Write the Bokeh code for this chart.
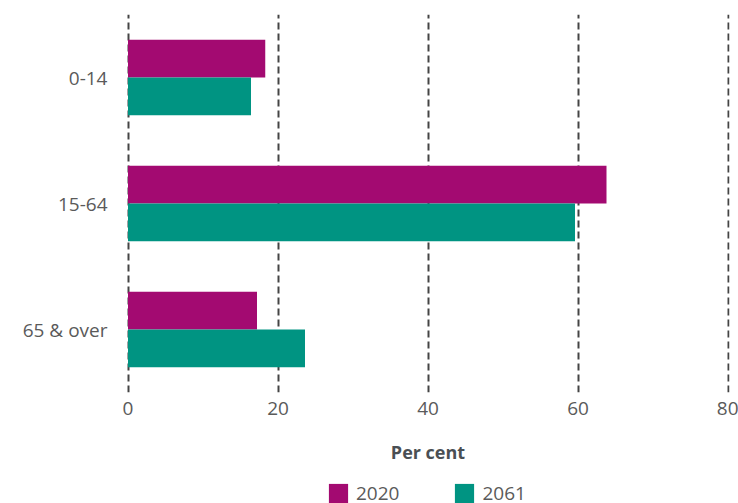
from bokeh.plotting import figure
from bokeh.models import ColumnDataSource, FactorRange, Range1d, Legend, LegendItem
from bokeh.transform import dodge
from bokeh.layouts import column
from bokeh.embed import file_html
from bokeh.resources import INLINE

categories = ["0-14", "15-64", "65 & over"]
series_names = ["2020", "2061"]
values_2020 = [18.3, 63.8, 17.2]
values_2061 = [16.4, 59.6, 23.6]
x_ticks = [0, 20, 40, 60, 80]

colors = ["#A30A71", "#009482"]
FONT = "Open Sans"
TEXT_COLOR = "#5a5a5a"

source = ColumnDataSource(dict(cat=categories, v2020=values_2020, v2061=values_2061))

# main chart: 14 + 378 + 74 = 466 px tall
p = figure(frame_width=603, frame_height=378, output_backend="svg", toolbar_location=None,
           y_range=FactorRange(factors=list(reversed(categories))),
           x_range=Range1d(-0.2, 80.2),
           min_border_left=126, min_border_right=9, min_border_top=14, min_border_bottom=74)
p.outline_line_color = None
p.background_fill_color = "white"
p.border_fill_color = "white"

p.hbar(y=dodge("cat", 0.15, range=p.y_range), right="v2020", left=0, height=0.3,
       source=source, color=colors[0], line_color=None)
p.hbar(y=dodge("cat", -0.15, range=p.y_range), right="v2061", left=0, height=0.3,
       source=source, color=colors[1], line_color=None)

p.ygrid.grid_line_color = None
p.xgrid.grid_line_color = "#444444"
p.xgrid.grid_line_width = 2
p.xgrid.grid_line_dash = "7 4"
p.xaxis.ticker = x_ticks

for ax in (p.xaxis[0], p.yaxis[0]):
    ax.axis_line_color = None
    ax.major_tick_line_color = None
    ax.minor_tick_line_color = None
    ax.major_tick_out = 0
    ax.major_tick_in = 0
    ax.minor_tick_out = 0
    ax.major_label_text_font = FONT
    ax.major_label_text_color = TEXT_COLOR

p.xaxis.major_label_text_font_size = "19px"
p.yaxis.major_label_text_font_size = "19px"
p.yaxis.major_label_standoff = 19
p.xaxis.major_label_standoff = 9
p.xaxis.axis_label = "Per cent"
p.xaxis.axis_label_text_font = FONT
p.xaxis.axis_label_text_font_style = "bold"
p.xaxis.axis_label_text_font_size = "18px"
p.xaxis.axis_label_text_color = "#4a4f54"
p.xaxis.axis_label_standoff = 22

# legend strip below the chart: 37 px tall (its frame is aligned with the chart's frame)
p2 = figure(width=738, height=37, output_backend="svg", toolbar_location=None,
            x_range=Range1d(0, 1), y_range=Range1d(0, 1),
            x_axis_type=None, y_axis_type=None,
            min_border_left=0, min_border_right=0, min_border_top=0, min_border_bottom=0)
p2.outline_line_color = None
p2.grid.visible = False
p2.border_fill_color = "white"

# legend proxies (NaN -> nothing drawn in the strip, only the legend swatch)
nan = float("nan")
l1 = p2.hbar(y=[nan], right=[nan], left=0, height=0.3, color=colors[0], line_color=None)
l2 = p2.hbar(y=[nan], right=[nan], left=0, height=0.3, color=colors[1], line_color=None)

legend = Legend(items=[LegendItem(label=series_names[0], renderers=[l1]),
                       LegendItem(label=series_names[1], renderers=[l2])],
                orientation="horizontal", location=(200, -3),
                glyph_width=24, glyph_height=24, label_height=24, label_standoff=6, spacing=53,
                label_text_font=FONT, label_text_font_size="19px",
                label_text_color=TEXT_COLOR, border_line_color=None,
                background_fill_alpha=0, padding=0, margin=0)
p2.add_layout(legend)

layout = column(p, p2, spacing=0)
open("out.html", "w").write(file_html(layout, INLINE))
